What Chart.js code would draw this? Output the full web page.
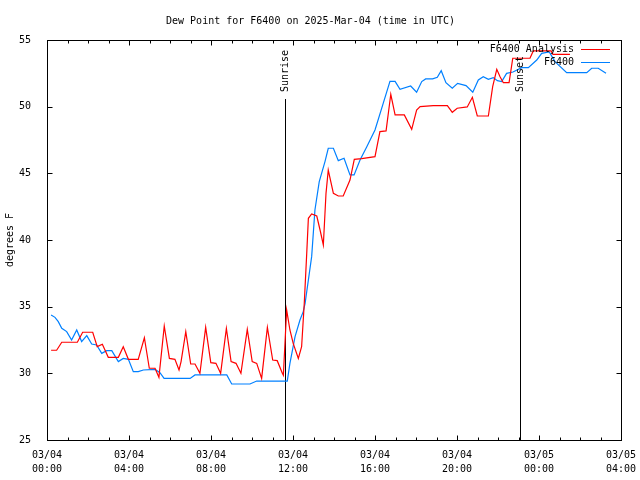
<!DOCTYPE html>
<html>
<head>
<meta charset="utf-8">
<script src="https://cdn.jsdelivr.net/npm/chart.js@4/dist/chart.umd.min.js"></script>
<style>
  html, body { margin: 0; padding: 0; background: #ffffff; }
  #c { display: block; }
</style>
</head>
<body>
<canvas id="c" width="640" height="480"></canvas>
<script>
// ---- data (hours since 03/04 00:00 UTC) ----
const analysisHours = [0.20,0.47,0.72,1.48,1.74,2.23,2.45,2.70,2.99,3.48,3.72,3.97,4.45,4.75,4.99,5.27,5.46,5.72,5.97,6.24,6.44,6.54,6.77,7.01,7.22,7.46,7.74,7.99,8.24,8.47,8.75,8.98,9.22,9.46,9.77,10.01,10.23,10.47,10.75,11.01,11.23,11.48,11.53,11.69,11.85,12.01,12.26,12.42,12.55,12.67,12.75,12.91,13.16,13.32,13.48,13.61,13.72,13.97,14.21,14.45,14.78,14.99,15.35,16.00,16.24,16.54,16.77,16.98,17.43,17.79,18.03,18.20,18.84,19.53,19.77,20.01,20.50,20.75,20.99,21.53,21.74,21.94,22.10,22.26,22.54,22.72,22.99,23.56,23.72,24.59,24.68,25.51];
const analysisDewpoint = [31.73,31.73,32.33,32.33,33.08,33.08,32.00,32.18,31.20,31.20,32.00,31.05,31.05,32.67,30.38,30.38,29.70,33.55,31.12,31.05,30.25,30.88,33.13,30.70,30.70,30.00,33.45,30.80,30.75,30.00,33.37,30.88,30.75,30.00,33.30,30.88,30.75,29.62,33.45,31.00,30.95,30.00,29.85,34.75,33.25,32.25,31.12,32.00,35.25,39.00,41.63,41.95,41.80,40.75,39.63,43.50,45.25,43.50,43.30,43.30,44.50,46.05,46.10,46.25,48.13,48.18,50.93,49.38,49.38,48.30,49.75,50.00,50.08,50.08,49.58,49.88,49.98,50.70,49.30,49.30,51.50,52.80,52.25,51.80,51.80,53.63,53.63,53.63,54.18,54.18,53.92,53.92];

const obsHours = [0.20,0.39,0.55,0.72,0.96,1.20,1.45,1.69,1.94,2.18,2.42,2.67,2.91,3.16,3.48,3.72,3.97,4.21,4.45,4.70,5.27,5.51,5.71,6.98,7.22,8.77,9.01,9.90,10.23,11.72,11.85,12.10,12.34,12.50,12.59,12.91,13.07,13.28,13.56,13.72,13.97,14.21,14.49,14.78,14.98,15.27,15.60,16.00,16.40,16.73,16.98,17.22,17.74,18.03,18.28,18.47,18.81,19.04,19.23,19.46,19.77,20.03,20.44,20.77,21.04,21.28,21.53,21.77,21.97,22.18,22.42,22.73,23.16,23.48,23.89,24.13,24.50,24.78,25.35,26.33,26.57,26.89,27.27];
const obsDewpoint = [34.38,34.20,33.88,33.38,33.13,32.50,33.25,32.38,32.83,32.20,32.13,31.50,31.70,31.70,30.88,31.12,31.05,30.13,30.13,30.25,30.30,30.05,29.62,29.62,29.88,29.88,29.20,29.20,29.42,29.42,30.75,32.75,34.00,34.63,35.25,38.75,42.25,44.38,45.88,46.88,46.88,45.95,46.13,44.88,44.88,46.00,47.00,48.25,50.25,51.90,51.90,51.30,51.55,51.08,51.88,52.08,52.08,52.20,52.70,51.80,51.38,51.75,51.58,51.08,52.00,52.25,52.05,52.18,51.95,51.88,52.50,52.60,52.93,52.93,53.50,54.00,54.10,53.38,52.55,52.55,52.88,52.88,52.50];

const seriesNames = ['F6400 Analysis', 'F6400'];
const xTickHours = [0, 4, 8, 12, 16, 20, 24, 28];
const xTickDates = ['03/04','03/04','03/04','03/04','03/04','03/04','03/05','03/05'];
const xTickTimes = ['00:00','04:00','08:00','12:00','16:00','20:00','00:00','04:00'];
const yTickValues = [25, 30, 35, 40, 45, 50, 55];
const sunEventNames = ['Sunrise', 'Sunset'];
const sunEventHours = [11.62, 23.07];

const FONT = '"DejaVu Sans Mono", monospace';
const RED = '#ff0000';
const BLUE = '#0080ff';

function toPoints(xs, ys) { return xs.map((x, i) => ({ x: x, y: ys[i] })); }

const gnuplotFrame = {
  id: 'gnuplotFrame',
  beforeDatasetsDraw(chart) {
    const ctx = chart.ctx;
    const a = chart.chartArea;
    const xs = chart.scales.x, ys = chart.scales.y;
    const L = Math.round(a.left) + 0.5, R = Math.round(a.right) + 0.5;
    const T = Math.round(a.top) + 0.5, B = Math.round(a.bottom) + 0.5;
    ctx.save();
    ctx.strokeStyle = '#000';
    ctx.lineWidth = 1;
    ctx.beginPath();
    for (let h = 0; h <= 28; h++) {
      const px = Math.round(xs.getPixelForValue(h)) + 0.5;
      const len = (h % 4 === 0) ? 5 : 3;
      ctx.moveTo(px, B); ctx.lineTo(px, B - len);
      ctx.moveTo(px, T); ctx.lineTo(px, T + len);
    }
    yTickValues.forEach(v => {
      const py = Math.round(ys.getPixelForValue(v)) + 0.5;
      ctx.moveTo(L, py); ctx.lineTo(L + 5, py);
      ctx.moveTo(R, py); ctx.lineTo(R - 5, py);
    });
    ctx.stroke();
    ctx.beginPath();
    sunEventHours.forEach(h => {
      const px = Math.round(xs.getPixelForValue(h)) + 0.5;
      ctx.moveTo(px, 99); ctx.lineTo(px, B);
    });
    ctx.stroke();
    ctx.strokeRect(L, T, R - L, B - T);
    ctx.restore();
  },
  afterDatasetsDraw(chart) {
    const ctx = chart.ctx;
    const xs = chart.scales.x;
    ctx.save();
    ctx.font = '10px ' + FONT;
    ctx.fillStyle = '#000';
    sunEventHours.forEach((h, i) => {
      const px = Math.round(xs.getPixelForValue(h)) + 0.5;
      ctx.save();
      ctx.translate(px, 92);
      ctx.rotate(-Math.PI / 2);
      ctx.textAlign = 'left';
      ctx.textBaseline = 'middle';
      ctx.fillText(sunEventNames[i], 0, 0);
      ctx.restore();
    });
    const colors = [RED, BLUE];
    seriesNames.forEach((name, i) => {
      const y = 49 + i * 13;
      ctx.textAlign = 'right';
      ctx.textBaseline = 'middle';
      ctx.fillStyle = '#000';
      ctx.fillText(name, 574, y);
      ctx.strokeStyle = colors[i];
      ctx.lineWidth = 1;
      ctx.beginPath();
      ctx.moveTo(581, y + 0.5); ctx.lineTo(610, y + 0.5);
      ctx.stroke();
    });
    ctx.restore();
  }
};

new Chart(document.getElementById('c'), {
  type: 'line',
  data: {
    datasets: [
      {
        label: seriesNames[0],
        data: toPoints(analysisHours, analysisDewpoint),
        borderColor: RED, backgroundColor: RED,
        borderWidth: 1.2, pointRadius: 0, tension: 0, fill: false
      },
      {
        label: seriesNames[1],
        data: toPoints(obsHours, obsDewpoint),
        borderColor: BLUE, backgroundColor: BLUE,
        borderWidth: 1.2, pointRadius: 0, tension: 0, fill: false
      }
    ]
  },
  options: {
    responsive: false,
    animation: false,
    devicePixelRatio: 1,
    layout: { padding: { left: 0, right: 19, top: 0, bottom: 0 } },
    plugins: {
      legend: { display: false },
      tooltip: { enabled: false },
      title: {
        display: true,
        text: 'Dew Point for F6400 on 2025-Mar-04 (time in UTC)',
        color: '#000',
        font: { family: FONT, size: 10, weight: 'normal', lineHeight: 1.2 },
        padding: { top: 15, bottom: 13 }
      }
    },
    scales: {
      x: {
        type: 'linear',
        min: 0, max: 28,
        afterBuildTicks: (scale) => { scale.ticks = xTickHours.map(v => ({ value: v })); },
        afterFit: (scale) => { scale.height = 40; scale.paddingLeft = 0; scale.paddingRight = 0; },
        grid: { display: false },
        border: { display: false },
        ticks: {
          autoSkip: false, maxRotation: 0, minRotation: 0,
          padding: 0, color: '#000',
          font: { family: FONT, size: 10, lineHeight: 1.4 },
          callback: (v) => { const i = xTickHours.indexOf(v); return i < 0 ? '' : [xTickDates[i], xTickTimes[i]]; }
        }
      },
      y: {
        min: 25, max: 55,
        afterBuildTicks: (scale) => { scale.ticks = yTickValues.map(v => ({ value: v })); },
        afterFit: (scale) => { scale.width = 47; scale.paddingTop = 0; scale.paddingBottom = 0; },
        grid: { display: false },
        border: { display: false },
        title: {
          display: true, text: 'degrees F', color: '#000',
          font: { family: FONT, size: 10, lineHeight: 1.2 },
          padding: { top: 4, bottom: 0 }
        },
        ticks: {
          padding: 8, color: '#000',
          font: { family: FONT, size: 10 },
          callback: (v) => String(v)
        }
      }
    }
  },
  plugins: [gnuplotFrame]
});
</script>
</body>
</html>
